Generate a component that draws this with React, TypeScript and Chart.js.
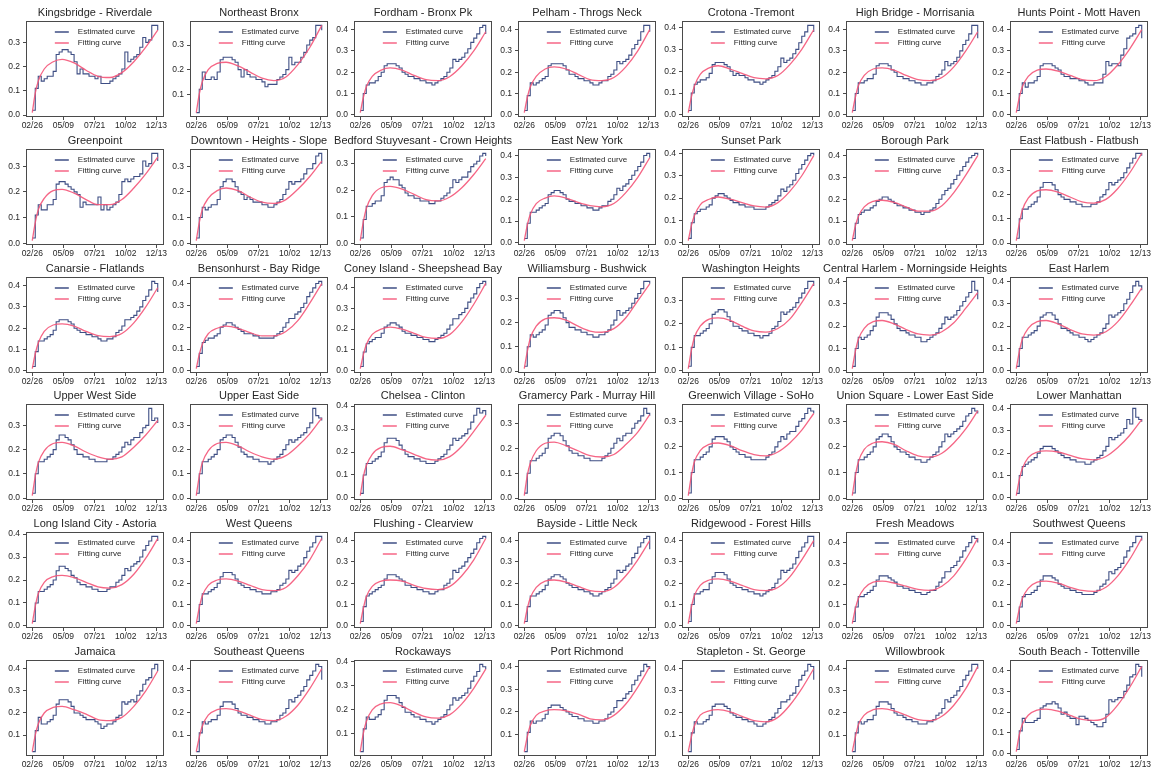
import React, { useEffect, useRef } from "react";
import { Chart, registerables } from "chart.js";

Chart.register(...registerables);

const FONT = "'Liberation Sans', Arial, sans-serif";
Chart.defaults.font.family = FONT;

// ---------- shared axes data ----------
const WEEK_DAYS = [0, 7, 14, 21, 28, 35, 42, 49, 56, 63, 70, 77, 84, 91, 98, 105, 112, 119, 126, 133, 140, 147, 154, 161, 168, 175, 182, 189, 196, 203, 210, 217, 224, 231, 238, 245, 252, 259, 266, 273, 280, 287, 294];
const FIT_DAYS = [0, 7, 14, 28, 49, 70, 98, 126, 154, 182, 210, 238, 266, 294];
const X_TICK_DAYS = [0, 73, 146, 219, 291];
const X_TICK_LABELS = ["02/26", "05/09", "07/21", "10/02", "12/13"];
const LEGEND_LABELS = ["Estimated curve", "Fitting curve"];

// ---------- Bronx ----------
const estKingsbridge = [0.02,0.11,0.16,0.14,0.15,0.16,0.16,0.18,0.25,0.26, 0.27,0.27,0.26,0.25,0.22,0.17,0.19,0.17,0.17,0.16, 0.16,0.15,0.16,0.13,0.13,0.13,0.14,0.15,0.16,0.17, 0.19,0.26,0.22,0.23,0.24,0.25,0.28,0.32,0.30,0.31, 0.37,0.37,0.35];
const fitKingsbridge = [0.01,0.09,0.14,0.19,0.22,0.23,0.215,0.185,0.16,0.155,0.175,0.22,0.28,0.35];
const estNortheastBronx = [0.025,0.12,0.19,0.16,0.16,0.17,0.16,0.19,0.24,0.25, 0.25,0.25,0.24,0.23,0.20,0.17,0.20,0.18,0.17,0.17, 0.16,0.16,0.15,0.13,0.14,0.14,0.14,0.16,0.17,0.18, 0.20,0.25,0.22,0.23,0.23,0.25,0.27,0.30,0.32,0.33, 0.38,0.38,0.36];
const fitNortheastBronx = [0.025,0.10,0.15,0.20,0.225,0.23,0.215,0.19,0.165,0.155,0.17,0.22,0.29,0.38];
const estFordham = [0.02,0.10,0.14,0.15,0.15,0.16,0.18,0.20,0.23,0.24, 0.24,0.24,0.23,0.22,0.20,0.19,0.18,0.18,0.17,0.17, 0.16,0.16,0.15,0.15,0.14,0.15,0.16,0.17,0.18,0.20, 0.22,0.26,0.25,0.26,0.27,0.29,0.31,0.34,0.36,0.38, 0.41,0.42,0.38];
const fitFordham = [0.01,0.08,0.13,0.18,0.21,0.22,0.21,0.185,0.165,0.16,0.18,0.23,0.30,0.39];
const estPelham = [0.02,0.09,0.15,0.14,0.15,0.16,0.17,0.18,0.23,0.24, 0.24,0.24,0.24,0.23,0.21,0.19,0.19,0.18,0.17,0.17, 0.16,0.16,0.15,0.14,0.14,0.15,0.16,0.16,0.18,0.19, 0.21,0.25,0.24,0.25,0.26,0.28,0.31,0.33,0.35,0.39, 0.42,0.42,0.39];
const fitPelham = [0.01,0.08,0.13,0.18,0.215,0.225,0.215,0.19,0.165,0.16,0.175,0.225,0.30,0.40];
const estCrotona = [0.02,0.10,0.14,0.15,0.16,0.16,0.17,0.19,0.23,0.24, 0.24,0.24,0.23,0.22,0.20,0.18,0.19,0.18,0.18,0.17, 0.16,0.16,0.15,0.15,0.14,0.15,0.16,0.17,0.18,0.20, 0.22,0.26,0.24,0.25,0.26,0.28,0.30,0.33,0.36,0.38, 0.41,0.41,0.38];
const fitCrotona = [0.01,0.08,0.13,0.185,0.215,0.225,0.21,0.19,0.17,0.165,0.18,0.23,0.30,0.39];
const estHighBridge = [0.02,0.10,0.15,0.15,0.16,0.17,0.17,0.19,0.23,0.24, 0.24,0.24,0.23,0.21,0.20,0.18,0.18,0.17,0.17,0.16, 0.16,0.15,0.15,0.14,0.14,0.15,0.15,0.16,0.18,0.19, 0.21,0.25,0.23,0.24,0.25,0.27,0.30,0.33,0.35,0.38, 0.42,0.42,0.36];
const fitHighBridge = [0.01,0.08,0.135,0.185,0.215,0.22,0.21,0.185,0.165,0.16,0.175,0.225,0.30,0.39];
const estHuntsPoint = [0.02,0.10,0.15,0.13,0.15,0.15,0.16,0.18,0.23,0.24, 0.24,0.24,0.23,0.22,0.21,0.19,0.18,0.18,0.17,0.17, 0.17,0.16,0.16,0.15,0.14,0.14,0.15,0.15,0.15,0.19, 0.25,0.23,0.24,0.24,0.23,0.28,0.31,0.36,0.37,0.38, 0.41,0.42,0.36];
const fitHuntsPoint = [0.01,0.08,0.13,0.18,0.21,0.215,0.205,0.185,0.165,0.16,0.18,0.235,0.31,0.40];

// ---------- Brooklyn ----------
const estGreenpoint = [0.02,0.11,0.15,0.13,0.13,0.15,0.15,0.17,0.23,0.24, 0.24,0.23,0.22,0.21,0.20,0.19,0.14,0.16,0.15,0.15, 0.15,0.15,0.18,0.13,0.15,0.13,0.14,0.15,0.16,0.19, 0.24,0.25,0.24,0.25,0.26,0.26,0.27,0.32,0.30,0.31, 0.35,0.35,0.32];
const fitGreenpoint = [0.01,0.08,0.13,0.175,0.205,0.21,0.195,0.17,0.15,0.15,0.17,0.215,0.27,0.335];
const estDowntown = [0.02,0.10,0.14,0.13,0.14,0.15,0.15,0.17,0.22,0.24, 0.25,0.25,0.24,0.22,0.20,0.19,0.17,0.18,0.17,0.16, 0.16,0.16,0.15,0.15,0.14,0.14,0.15,0.16,0.17,0.19, 0.21,0.24,0.23,0.24,0.24,0.25,0.27,0.29,0.29,0.31, 0.34,0.35,0.31];
const fitDowntown = [0.01,0.08,0.13,0.175,0.205,0.215,0.205,0.18,0.16,0.155,0.17,0.21,0.26,0.32];
const estBedford = [0.02,0.09,0.14,0.14,0.15,0.16,0.16,0.18,0.23,0.24, 0.25,0.24,0.24,0.22,0.21,0.19,0.18,0.18,0.17,0.17, 0.16,0.16,0.16,0.15,0.15,0.16,0.16,0.17,0.18,0.19, 0.21,0.24,0.23,0.24,0.25,0.25,0.27,0.29,0.30,0.31, 0.33,0.34,0.33];
const fitBedford = [0.01,0.08,0.13,0.18,0.21,0.215,0.205,0.185,0.165,0.16,0.175,0.21,0.26,0.32];
const estEastNewYork = [0.02,0.09,0.14,0.14,0.15,0.16,0.17,0.18,0.22,0.23, 0.24,0.24,0.23,0.22,0.20,0.19,0.19,0.18,0.18,0.17, 0.17,0.16,0.16,0.15,0.15,0.16,0.17,0.17,0.19,0.20, 0.22,0.25,0.24,0.26,0.27,0.29,0.31,0.33,0.35,0.37, 0.40,0.41,0.39];
const fitEastNewYork = [0.01,0.08,0.13,0.18,0.205,0.215,0.205,0.185,0.17,0.165,0.18,0.23,0.30,0.39];
const estSunsetPark = [0.02,0.09,0.13,0.14,0.15,0.15,0.16,0.17,0.20,0.21, 0.22,0.22,0.21,0.20,0.19,0.18,0.18,0.17,0.17,0.16, 0.16,0.16,0.15,0.15,0.15,0.15,0.16,0.17,0.18,0.19, 0.21,0.24,0.23,0.25,0.26,0.28,0.31,0.33,0.35,0.37, 0.39,0.40,0.39];
const fitSunsetPark = [0.01,0.075,0.12,0.17,0.195,0.205,0.195,0.18,0.165,0.16,0.18,0.23,0.30,0.39];
const estBoroughPark = [0.02,0.09,0.13,0.14,0.15,0.15,0.16,0.17,0.19,0.20, 0.21,0.21,0.20,0.19,0.18,0.17,0.17,0.16,0.16,0.15, 0.15,0.14,0.14,0.13,0.14,0.14,0.15,0.16,0.18,0.20, 0.22,0.24,0.25,0.27,0.29,0.31,0.33,0.35,0.37,0.39, 0.40,0.41,0.40];
const fitBoroughPark = [0.01,0.075,0.12,0.165,0.19,0.195,0.185,0.165,0.145,0.145,0.17,0.23,0.31,0.40];
const estEastFlatbush = [0.02,0.10,0.14,0.14,0.15,0.16,0.17,0.19,0.23,0.25, 0.25,0.25,0.24,0.22,0.20,0.19,0.18,0.18,0.17,0.17, 0.16,0.16,0.15,0.15,0.15,0.16,0.16,0.17,0.19,0.20, 0.22,0.25,0.24,0.25,0.26,0.27,0.29,0.31,0.33,0.35, 0.37,0.37,0.36];
const fitEastFlatbush = [0.01,0.08,0.135,0.185,0.215,0.22,0.21,0.19,0.17,0.165,0.18,0.225,0.29,0.37];
const estCanarsie = [0.02,0.09,0.14,0.14,0.15,0.16,0.17,0.19,0.23,0.24, 0.24,0.24,0.23,0.22,0.20,0.19,0.18,0.18,0.17,0.17, 0.16,0.16,0.15,0.14,0.14,0.15,0.15,0.16,0.18,0.19, 0.21,0.24,0.24,0.25,0.26,0.28,0.30,0.33,0.35,0.38, 0.42,0.41,0.37];
const fitCanarsie = [0.01,0.08,0.13,0.185,0.215,0.22,0.21,0.185,0.165,0.16,0.175,0.225,0.30,0.39];
const estBensonhurst = [0.02,0.08,0.13,0.14,0.15,0.15,0.16,0.17,0.20,0.21, 0.22,0.22,0.21,0.20,0.19,0.18,0.17,0.17,0.17,0.16, 0.16,0.15,0.15,0.15,0.15,0.15,0.16,0.17,0.18,0.20, 0.22,0.24,0.24,0.26,0.27,0.29,0.31,0.34,0.36,0.38, 0.40,0.41,0.39];
const fitBensonhurst = [0.01,0.075,0.12,0.17,0.195,0.205,0.195,0.175,0.16,0.16,0.18,0.23,0.31,0.40];
const estConeyIsland = [0.02,0.09,0.13,0.14,0.15,0.16,0.16,0.18,0.21,0.22, 0.23,0.23,0.22,0.21,0.19,0.18,0.18,0.17,0.17,0.16, 0.16,0.15,0.15,0.14,0.14,0.15,0.16,0.17,0.18,0.20, 0.22,0.25,0.25,0.27,0.28,0.30,0.33,0.35,0.37,0.40, 0.42,0.43,0.41];
const fitConeyIsland = [0.01,0.075,0.125,0.175,0.20,0.21,0.20,0.18,0.16,0.155,0.175,0.235,0.32,0.42];
const estWilliamsburg = [0.02,0.10,0.15,0.14,0.15,0.16,0.17,0.19,0.23,0.24, 0.25,0.25,0.24,0.22,0.20,0.18,0.18,0.17,0.17,0.16, 0.16,0.15,0.15,0.14,0.14,0.15,0.15,0.16,0.17,0.19, 0.21,0.25,0.23,0.24,0.25,0.26,0.28,0.30,0.32,0.34, 0.37,0.37,0.36];
const fitWilliamsburg = [0.01,0.08,0.135,0.185,0.215,0.22,0.21,0.185,0.165,0.16,0.175,0.22,0.29,0.36];

// ---------- Manhattan ----------
const estWashingtonHeights = [0.02,0.10,0.15,0.15,0.16,0.17,0.18,0.20,0.24,0.25, 0.26,0.26,0.25,0.23,0.21,0.19,0.19,0.18,0.17,0.17, 0.16,0.16,0.15,0.15,0.14,0.15,0.15,0.16,0.18,0.19, 0.21,0.25,0.24,0.25,0.26,0.27,0.29,0.31,0.33,0.35, 0.38,0.38,0.36];
const fitWashingtonHeights = [0.01,0.085,0.14,0.19,0.22,0.225,0.215,0.19,0.17,0.165,0.18,0.22,0.29,0.37];
const estCentralHarlem = [0.02,0.10,0.15,0.14,0.15,0.16,0.18,0.20,0.24,0.26, 0.26,0.26,0.25,0.23,0.21,0.19,0.18,0.18,0.17,0.16, 0.16,0.15,0.15,0.13,0.13,0.14,0.15,0.16,0.17,0.19, 0.21,0.24,0.23,0.24,0.25,0.27,0.29,0.31,0.33,0.35, 0.40,0.36,0.32];
const fitCentralHarlem = [0.01,0.085,0.14,0.19,0.22,0.225,0.21,0.185,0.165,0.16,0.175,0.215,0.28,0.35];
const estEastHarlem = [0.02,0.10,0.15,0.15,0.16,0.17,0.18,0.20,0.24,0.25, 0.26,0.26,0.25,0.23,0.21,0.19,0.19,0.18,0.17,0.16, 0.16,0.15,0.15,0.14,0.13,0.14,0.15,0.16,0.17,0.19, 0.21,0.25,0.24,0.25,0.26,0.27,0.30,0.32,0.35,0.38, 0.40,0.38,0.36];
const fitEastHarlem = [0.01,0.085,0.14,0.19,0.22,0.225,0.21,0.185,0.165,0.16,0.175,0.22,0.29,0.37];
const estUpperWestSide = [0.02,0.10,0.15,0.15,0.16,0.17,0.18,0.20,0.24,0.26, 0.26,0.25,0.24,0.22,0.20,0.18,0.18,0.17,0.17,0.16, 0.16,0.15,0.15,0.15,0.15,0.16,0.16,0.17,0.18,0.19, 0.21,0.23,0.22,0.24,0.25,0.25,0.27,0.29,0.30,0.37, 0.32,0.33,0.31];
const fitUpperWestSide = [0.01,0.09,0.145,0.195,0.225,0.23,0.215,0.19,0.17,0.16,0.17,0.21,0.26,0.32];
const estUpperEastSide = [0.02,0.10,0.15,0.15,0.16,0.17,0.18,0.20,0.24,0.25, 0.26,0.26,0.25,0.23,0.21,0.19,0.18,0.17,0.17,0.16, 0.16,0.15,0.15,0.15,0.14,0.15,0.16,0.17,0.18,0.20, 0.22,0.24,0.23,0.24,0.25,0.26,0.27,0.29,0.31,0.37, 0.34,0.33,0.32];
const fitUpperEastSide = [0.01,0.09,0.145,0.195,0.225,0.23,0.215,0.19,0.17,0.16,0.175,0.215,0.265,0.33];
const estChelsea = [0.02,0.10,0.15,0.15,0.16,0.17,0.18,0.20,0.24,0.26, 0.26,0.26,0.25,0.23,0.21,0.19,0.18,0.18,0.17,0.17, 0.16,0.16,0.15,0.15,0.15,0.16,0.17,0.18,0.19,0.21, 0.23,0.26,0.25,0.26,0.27,0.28,0.30,0.33,0.36,0.39, 0.37,0.38,0.36];
const fitChelsea = [0.01,0.09,0.14,0.19,0.22,0.225,0.21,0.19,0.17,0.165,0.18,0.225,0.29,0.36];
const estGramercy = [0.02,0.10,0.15,0.15,0.16,0.17,0.18,0.20,0.24,0.25, 0.26,0.26,0.25,0.23,0.21,0.19,0.18,0.18,0.17,0.17, 0.16,0.16,0.15,0.15,0.15,0.15,0.16,0.17,0.18,0.20, 0.22,0.24,0.23,0.25,0.26,0.26,0.28,0.30,0.31,0.33, 0.36,0.34,0.33];
const fitGramercy = [0.01,0.09,0.14,0.19,0.22,0.225,0.21,0.19,0.17,0.165,0.175,0.215,0.265,0.335];
const estGreenwich = [0.02,0.10,0.15,0.15,0.16,0.17,0.18,0.20,0.23,0.24, 0.24,0.24,0.23,0.22,0.20,0.19,0.18,0.17,0.17,0.16, 0.16,0.15,0.15,0.15,0.15,0.15,0.16,0.17,0.18,0.20, 0.22,0.24,0.23,0.25,0.26,0.26,0.28,0.30,0.31,0.33, 0.35,0.34,0.33];
const fitGreenwich = [0.01,0.085,0.14,0.185,0.21,0.215,0.205,0.185,0.17,0.165,0.18,0.215,0.265,0.33];
const estUnionSquare = [0.02,0.10,0.15,0.15,0.16,0.17,0.18,0.20,0.23,0.24, 0.25,0.25,0.24,0.22,0.20,0.19,0.18,0.18,0.17,0.16, 0.16,0.15,0.15,0.14,0.14,0.15,0.16,0.17,0.18,0.20, 0.22,0.25,0.24,0.25,0.26,0.27,0.28,0.30,0.32,0.33, 0.35,0.34,0.33];
const fitUnionSquare = [0.01,0.085,0.14,0.19,0.215,0.22,0.21,0.185,0.165,0.16,0.175,0.215,0.27,0.34];
const estLowerManhattan = [0.02,0.10,0.14,0.15,0.16,0.17,0.18,0.20,0.22,0.23, 0.23,0.23,0.22,0.21,0.20,0.19,0.18,0.18,0.17,0.17, 0.16,0.16,0.16,0.15,0.15,0.16,0.17,0.18,0.19,0.21, 0.23,0.27,0.26,0.27,0.28,0.29,0.31,0.35,0.33,0.40, 0.36,0.35,0.34];
const fitLowerManhattan = [0.01,0.08,0.13,0.18,0.205,0.21,0.205,0.19,0.175,0.17,0.185,0.225,0.28,0.35];

// ---------- Queens ----------
const estAstoria = [0.02,0.10,0.15,0.15,0.16,0.17,0.18,0.20,0.24,0.26, 0.26,0.25,0.24,0.22,0.21,0.19,0.18,0.18,0.17,0.17, 0.16,0.16,0.15,0.15,0.15,0.16,0.17,0.17,0.19,0.20, 0.22,0.25,0.24,0.26,0.27,0.28,0.30,0.33,0.35,0.37, 0.39,0.39,0.37];
const fitAstoria = [0.01,0.085,0.14,0.19,0.215,0.22,0.21,0.19,0.17,0.165,0.18,0.225,0.295,0.38];
const estWestQueens = [0.02,0.10,0.15,0.15,0.16,0.17,0.18,0.20,0.23,0.25, 0.25,0.25,0.24,0.22,0.20,0.19,0.18,0.18,0.17,0.17, 0.16,0.16,0.15,0.15,0.15,0.16,0.16,0.17,0.19,0.20, 0.22,0.26,0.25,0.26,0.28,0.29,0.32,0.35,0.37,0.39, 0.42,0.42,0.40];
const fitWestQueens = [0.01,0.085,0.14,0.19,0.215,0.22,0.21,0.19,0.17,0.165,0.18,0.235,0.31,0.41];
const estFlushing = [0.02,0.09,0.14,0.15,0.16,0.17,0.18,0.19,0.22,0.24, 0.24,0.24,0.23,0.22,0.21,0.19,0.19,0.18,0.18,0.17, 0.17,0.16,0.16,0.15,0.15,0.16,0.17,0.17,0.19,0.20, 0.22,0.26,0.25,0.27,0.28,0.30,0.32,0.34,0.36,0.39, 0.41,0.42,0.41];
const fitFlushing = [0.01,0.08,0.135,0.185,0.21,0.215,0.21,0.19,0.175,0.17,0.185,0.235,0.31,0.41];
const estBayside = [0.02,0.09,0.14,0.14,0.15,0.16,0.17,0.19,0.22,0.23, 0.24,0.24,0.23,0.22,0.20,0.19,0.18,0.18,0.17,0.17, 0.16,0.16,0.15,0.14,0.14,0.15,0.16,0.17,0.18,0.20, 0.22,0.26,0.25,0.26,0.28,0.29,0.32,0.34,0.37,0.39, 0.41,0.42,0.36];
const fitBayside = [0.01,0.08,0.13,0.18,0.21,0.215,0.205,0.185,0.165,0.16,0.18,0.235,0.31,0.40];
const estRidgewood = [0.02,0.10,0.15,0.15,0.16,0.17,0.17,0.20,0.23,0.25, 0.25,0.25,0.24,0.22,0.20,0.19,0.18,0.18,0.17,0.17, 0.16,0.16,0.15,0.15,0.14,0.15,0.16,0.17,0.18,0.20, 0.22,0.26,0.25,0.26,0.27,0.29,0.32,0.35,0.37,0.39, 0.42,0.42,0.37];
const fitRidgewood = [0.01,0.085,0.14,0.19,0.215,0.22,0.21,0.19,0.17,0.165,0.18,0.23,0.31,0.40];
const estFreshMeadows = [0.02,0.09,0.14,0.14,0.15,0.16,0.17,0.19,0.22,0.24, 0.24,0.24,0.23,0.22,0.21,0.19,0.19,0.18,0.18,0.17, 0.17,0.16,0.16,0.15,0.15,0.16,0.17,0.17,0.19,0.21, 0.23,0.26,0.26,0.28,0.29,0.31,0.33,0.36,0.38,0.40, 0.43,0.42,0.40];
const fitFreshMeadows = [0.01,0.08,0.13,0.18,0.21,0.215,0.205,0.19,0.175,0.17,0.19,0.24,0.32,0.42];
const estSouthwestQueens = [0.02,0.09,0.14,0.15,0.15,0.16,0.17,0.19,0.22,0.24, 0.24,0.24,0.23,0.22,0.20,0.19,0.18,0.18,0.17,0.17, 0.16,0.16,0.15,0.15,0.15,0.15,0.16,0.17,0.19,0.20, 0.22,0.26,0.25,0.27,0.28,0.30,0.33,0.36,0.38,0.40, 0.43,0.43,0.41];
const fitSouthwestQueens = [0.01,0.08,0.13,0.18,0.21,0.215,0.205,0.185,0.17,0.165,0.185,0.24,0.32,0.42];
const estJamaica = [0.025,0.12,0.18,0.15,0.15,0.16,0.17,0.19,0.24,0.26, 0.26,0.26,0.25,0.23,0.20,0.20,0.19,0.18,0.17,0.17, 0.17,0.16,0.15,0.13,0.14,0.15,0.15,0.16,0.18,0.19, 0.25,0.24,0.25,0.26,0.25,0.28,0.30,0.33,0.35,0.36, 0.40,0.42,0.39];
const fitJamaica = [0.025,0.10,0.15,0.20,0.225,0.23,0.215,0.195,0.17,0.165,0.18,0.23,0.30,0.39];
const estSoutheastQueens = [0.025,0.11,0.16,0.15,0.16,0.17,0.17,0.19,0.23,0.25, 0.25,0.25,0.24,0.22,0.20,0.19,0.19,0.18,0.18,0.17, 0.17,0.16,0.16,0.15,0.15,0.16,0.16,0.17,0.19,0.20, 0.22,0.26,0.25,0.27,0.28,0.30,0.32,0.35,0.37,0.39, 0.42,0.41,0.35];
const fitSoutheastQueens = [0.025,0.09,0.14,0.19,0.215,0.22,0.21,0.19,0.17,0.165,0.185,0.235,0.31,0.40];
const estRockaways = [0.025,0.12,0.17,0.16,0.16,0.17,0.18,0.20,0.24,0.26, 0.26,0.26,0.25,0.23,0.21,0.19,0.19,0.18,0.17,0.17, 0.16,0.16,0.15,0.15,0.14,0.15,0.16,0.17,0.18,0.20, 0.22,0.25,0.24,0.25,0.26,0.27,0.29,0.32,0.34,0.36, 0.39,0.38,0.37];
const fitRockaways = [0.025,0.10,0.15,0.20,0.225,0.23,0.215,0.19,0.17,0.165,0.18,0.225,0.29,0.37];

// ---------- Staten Island ----------
const estPortRichmond = [0.025,0.11,0.16,0.15,0.16,0.16,0.17,0.19,0.22,0.23, 0.23,0.23,0.22,0.21,0.20,0.19,0.18,0.18,0.17,0.17, 0.16,0.16,0.16,0.15,0.15,0.16,0.16,0.17,0.19,0.20, 0.22,0.25,0.25,0.26,0.28,0.29,0.32,0.34,0.36,0.38, 0.41,0.40,0.39];
const fitPortRichmond = [0.025,0.09,0.14,0.185,0.205,0.21,0.205,0.19,0.17,0.165,0.185,0.235,0.31,0.40];
const estStapleton = [0.025,0.11,0.16,0.15,0.15,0.16,0.17,0.19,0.23,0.24, 0.24,0.24,0.23,0.22,0.20,0.19,0.18,0.18,0.17,0.17, 0.16,0.16,0.15,0.14,0.14,0.15,0.16,0.17,0.18,0.20, 0.22,0.25,0.25,0.26,0.28,0.29,0.32,0.35,0.37,0.39, 0.42,0.41,0.35];
const fitStapleton = [0.025,0.09,0.14,0.19,0.21,0.215,0.205,0.185,0.165,0.16,0.18,0.235,0.31,0.40];
const estWillowbrook = [0.025,0.11,0.16,0.15,0.16,0.17,0.17,0.19,0.23,0.25, 0.25,0.25,0.24,0.22,0.20,0.19,0.19,0.18,0.17,0.17, 0.16,0.16,0.15,0.15,0.15,0.16,0.16,0.17,0.19,0.20, 0.22,0.26,0.25,0.27,0.28,0.30,0.32,0.35,0.37,0.39, 0.42,0.42,0.40];
const fitWillowbrook = [0.025,0.09,0.145,0.19,0.215,0.22,0.21,0.19,0.17,0.165,0.185,0.235,0.31,0.41];
const estSouthBeach = [0.02,0.11,0.17,0.15,0.15,0.15,0.16,0.17,0.22,0.23, 0.24,0.24,0.25,0.24,0.22,0.19,0.20,0.18,0.17,0.17, 0.14,0.18,0.18,0.17,0.16,0.15,0.14,0.13,0.13,0.15, 0.19,0.26,0.25,0.26,0.27,0.27,0.30,0.33,0.37,0.38, 0.43,0.42,0.37];
const fitSouthBeach = [0.01,0.09,0.14,0.185,0.21,0.215,0.205,0.185,0.165,0.16,0.175,0.235,0.32,0.42];

const TITLES = [
  "Kingsbridge - Riverdale", "Northeast Bronx", "Fordham - Bronx Pk", "Pelham - Throgs Neck", "Crotona -Tremont", "High Bridge - Morrisania", "Hunts Point - Mott Haven",
  "Greenpoint", "Downtown - Heights - Slope", "Bedford Stuyvesant - Crown Heights", "East New York", "Sunset Park", "Borough Park", "East Flatbush - Flatbush",
  "Canarsie - Flatlands", "Bensonhurst - Bay Ridge", "Coney Island - Sheepshead Bay", "Williamsburg - Bushwick", "Washington Heights", "Central Harlem - Morningside Heights", "East Harlem",
  "Upper West Side", "Upper East Side", "Chelsea - Clinton", "Gramercy Park - Murray Hill", "Greenwich Village - SoHo", "Union Square - Lower East Side", "Lower Manhattan",
  "Long Island City - Astoria", "West Queens", "Flushing - Clearview", "Bayside - Little Neck", "Ridgewood - Forest Hills", "Fresh Meadows", "Southwest Queens",
  "Jamaica", "Southeast Queens", "Rockaways", "Port Richmond", "Stapleton - St. George", "Willowbrook", "South Beach - Tottenville",
];

const ESTIMATED = [
  estKingsbridge, estNortheastBronx, estFordham, estPelham, estCrotona, estHighBridge, estHuntsPoint,
  estGreenpoint, estDowntown, estBedford, estEastNewYork, estSunsetPark, estBoroughPark, estEastFlatbush,
  estCanarsie, estBensonhurst, estConeyIsland, estWilliamsburg, estWashingtonHeights, estCentralHarlem, estEastHarlem,
  estUpperWestSide, estUpperEastSide, estChelsea, estGramercy, estGreenwich, estUnionSquare, estLowerManhattan,
  estAstoria, estWestQueens, estFlushing, estBayside, estRidgewood, estFreshMeadows, estSouthwestQueens,
  estJamaica, estSoutheastQueens, estRockaways, estPortRichmond, estStapleton, estWillowbrook, estSouthBeach,
];
const FITTED = [
  fitKingsbridge, fitNortheastBronx, fitFordham, fitPelham, fitCrotona, fitHighBridge, fitHuntsPoint,
  fitGreenpoint, fitDowntown, fitBedford, fitEastNewYork, fitSunsetPark, fitBoroughPark, fitEastFlatbush,
  fitCanarsie, fitBensonhurst, fitConeyIsland, fitWilliamsburg, fitWashingtonHeights, fitCentralHarlem, fitEastHarlem,
  fitUpperWestSide, fitUpperEastSide, fitChelsea, fitGramercy, fitGreenwich, fitUnionSquare, fitLowerManhattan,
  fitAstoria, fitWestQueens, fitFlushing, fitBayside, fitRidgewood, fitFreshMeadows, fitSouthwestQueens,
  fitJamaica, fitSoutheastQueens, fitRockaways, fitPortRichmond, fitStapleton, fitWillowbrook, fitSouthBeach,
];

// ---------- styling / geometry ----------
const EST_COLOR = "#3e4e84";
const FIT_COLOR = "rgba(244, 84, 120, 0.9)";
const TEXT_COLOR = "#262626";
const AXIS_COLOR = "#4a4a4a";
const COLS = 7;
const COL_PITCH = 164;
const ROW_PITCH = 127.8;
const CANVAS_SHIFT = 20;   // canvas starts this far left of its column
const CANVAS_W = 220;
const CANVAS_H = 132;
const Y_AXIS_W = 46;       // plot left = column start + 26
const PLOT_W = 138;
const X_AXIS_H = 15;
const TITLE_SPACE = 21;
const TITLE_Y = 12.6;

const framePlugin = {
  id: "frameBox",
  afterDraw(chart: any) {
    const { ctx, chartArea } = chart;
    const l = Math.round(chartArea.left) + 0.5;
    const t = Math.round(chartArea.top) + 0.5;
    const r = Math.round(chartArea.right) - 0.5;
    const b = Math.round(chartArea.bottom) - 0.5;
    ctx.save();
    ctx.strokeStyle = AXIS_COLOR;
    ctx.lineWidth = 1;
    ctx.strokeRect(l, t, r - l, b - t);
    ctx.restore();
  },
};

// axes title centred over the plot area, never squeezed
const panelTitlePlugin = {
  id: "panelTitle",
  afterDraw(chart: any, _args: any, opts: any) {
    const { ctx, chartArea } = chart;
    ctx.save();
    ctx.font = `11px ${FONT}`;
    ctx.fillStyle = TEXT_COLOR;
    ctx.textAlign = "center";
    ctx.textBaseline = "middle";
    ctx.fillText(opts.text, (chartArea.left + chartArea.right) / 2, TITLE_Y);
    ctx.restore();
  },
};

const legendPlugin = {
  id: "innerLegend",
  afterDatasetsDraw(chart: any) {
    const { ctx, chartArea } = chart;
    const colors = [EST_COLOR, FIT_COLOR];
    ctx.save();
    ctx.font = `8px ${FONT}`;
    const tw = Math.max(...LEGEND_LABELS.map((s) => ctx.measureText(s).width));
    const lineLen = 14;
    const gap = 9;
    const x0 = (chartArea.left + chartArea.right) / 2 - (lineLen + gap + tw) / 2;
    LEGEND_LABELS.forEach((label, k) => {
      const y = chartArea.top + 11 + k * 11;
      ctx.strokeStyle = colors[k];
      ctx.lineWidth = 1.5;
      ctx.beginPath();
      ctx.moveTo(x0, y);
      ctx.lineTo(x0 + lineLen, y);
      ctx.stroke();
      ctx.fillStyle = TEXT_COLOR;
      ctx.textBaseline = "middle";
      ctx.textAlign = "left";
      ctx.fillText(label, x0 + lineLen + gap, y);
    });
    ctx.restore();
  },
};

function Panel({ index }: { index: number }) {
  const ref = useRef<HTMLCanvasElement | null>(null);
  const col = index % COLS;
  const row = Math.floor(index / COLS);
  const left = col * COL_PITCH - CANVAS_SHIFT;
  const top = Math.round(row * ROW_PITCH);

  useEffect(() => {
    if (!ref.current) return;
    const est = ESTIMATED[index];
    const fit = FITTED[index];
    const all = [...est, ...fit];
    const lo = Math.min(...all);
    const hi = Math.max(...all);
    const pad = (hi - lo) * 0.05;
    const xLo = WEEK_DAYS[0];
    const xHi = WEEK_DAYS[WEEK_DAYS.length - 1];
    const xPad = (xHi - xLo) * 0.05;

    const chart = new Chart(ref.current, {
      type: "line",
      data: {
        datasets: [
          {
            label: LEGEND_LABELS[1],
            data: FIT_DAYS.map((d, i) => ({ x: d, y: fit[i] })),
            borderColor: FIT_COLOR,
            borderWidth: 1.3,
            pointRadius: 0,
            cubicInterpolationMode: "monotone",
            fill: false,
            order: 0,
          },
          {
            label: LEGEND_LABELS[0],
            data: est.map((v, i) => ({ x: WEEK_DAYS[i], y: v })),
            borderColor: EST_COLOR,
            borderWidth: 1.1,
            pointRadius: 0,
            stepped: "before",
            fill: false,
            order: 1,
          },
        ],
      } as any,
      options: {
        animation: false,
        responsive: false,
        devicePixelRatio: 1,
        events: [],
        layout: { padding: { left: 0, right: CANVAS_W - Y_AXIS_W - PLOT_W, top: TITLE_SPACE, bottom: 0 } },
        plugins: {
          legend: { display: false },
          tooltip: { enabled: false },
          title: { display: false },
          panelTitle: { text: TITLES[index] },
        },
        scales: {
          x: {
            type: "linear",
            min: xLo - xPad,
            max: xHi + xPad,
            afterBuildTicks: (s: any) => {
              s.ticks = X_TICK_DAYS.map((v) => ({ value: v }));
            },
            afterFit: (s: any) => {
              s.height = X_AXIS_H;
              s.paddingLeft = 0;
              s.paddingRight = 0;
            },
            ticks: {
              autoSkip: false,
              maxRotation: 0,
              minRotation: 0,
              padding: 1,
              color: TEXT_COLOR,
              font: { size: 8.5, family: FONT },
              callback: (_v: any, i: number) => X_TICK_LABELS[i],
            },
            grid: { display: true, drawOnChartArea: false, drawTicks: true, tickLength: 3, color: AXIS_COLOR },
            border: { display: false },
          },
          y: {
            type: "linear",
            min: lo - pad,
            max: hi + pad,
            afterFit: (s: any) => {
              s.width = Y_AXIS_W;
              s.paddingTop = 0;
              s.paddingBottom = 0;
            },
            ticks: {
              stepSize: 0.1,
              includeBounds: false,
              autoSkip: false,
              padding: 3,
              color: TEXT_COLOR,
              font: { size: 8.5, family: FONT },
              callback: (v: any) => Number(v).toFixed(1),
            },
            grid: { display: true, drawOnChartArea: false, drawTicks: true, tickLength: 3, color: AXIS_COLOR },
            border: { display: false },
          },
        },
      } as any,
      plugins: [framePlugin, legendPlugin, panelTitlePlugin],
    });
    return () => chart.destroy();
  }, [index]);

  return (
    <canvas
      ref={ref}
      width={CANVAS_W}
      height={CANVAS_H}
      style={{ position: "absolute", left, top, width: CANVAS_W, height: CANVAS_H }}
    />
  );
}

export default function App() {
  return (
    <div style={{ position: "absolute", left: 0, top: 0, width: 1152, height: 770, background: "#ffffff", overflow: "hidden" }}>
      {TITLES.map((_, i) => (
        <Panel key={i} index={i} />
      ))}
    </div>
  );
}
